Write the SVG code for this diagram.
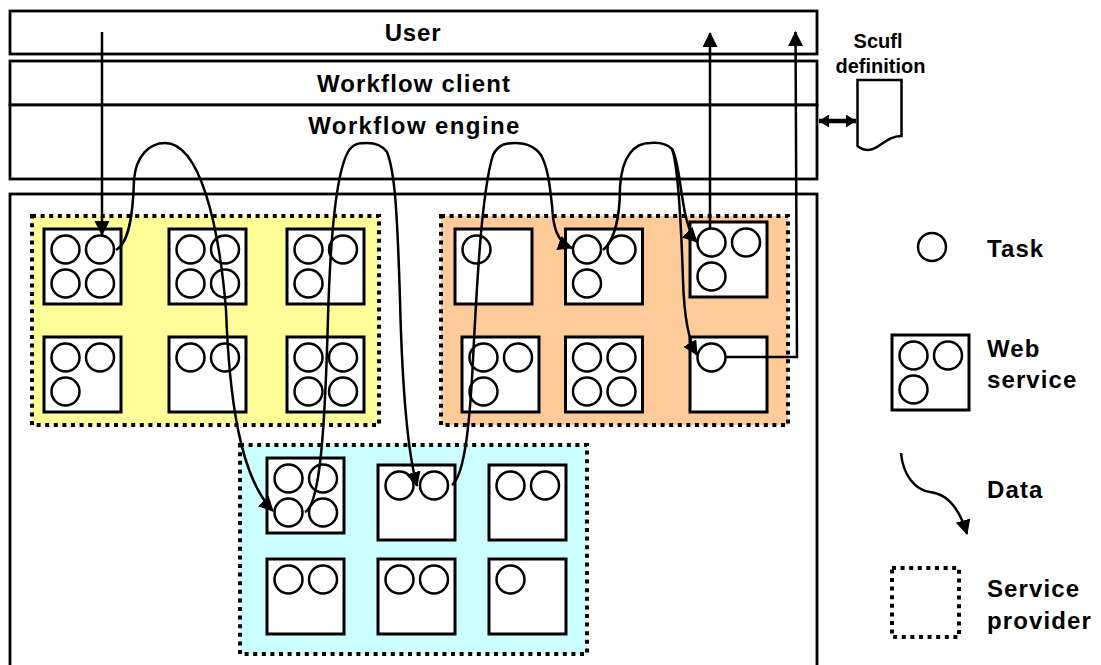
<svg xmlns="http://www.w3.org/2000/svg" width="1101" height="665" viewBox="0 0 1101 665">
<style>
.frame{fill:#fff;stroke:#000;stroke-width:2.8}
.prov{stroke:#000;stroke-width:4;stroke-dasharray:4 4.6}
.box{fill:#fff;stroke:#000;stroke-width:3}
.task{fill:none;stroke:#000;stroke-width:2.5}
.conn{fill:none;stroke:#000;stroke-width:2.5}
text{font-family:"Liberation Sans",Arial,sans-serif;font-weight:700;fill:#000}
.h{font-size:24px;text-anchor:middle}
.l{font-size:24px;letter-spacing:1.1px}
.s{font-size:20px;text-anchor:middle}
</style>
<defs>
<marker id="a" markerUnits="userSpaceOnUse" markerWidth="16" markerHeight="16" refX="14" refY="7.5" orient="auto"><path d="M0,0L15,7.5L0,15Z"/></marker>
<marker id="b" markerUnits="userSpaceOnUse" markerWidth="12" markerHeight="13" refX="10" refY="6.5" orient="auto-start-reverse"><path d="M0,0L10,6.5L0,13Z"/></marker>
<rect id="bx" class="box" width="77" height="75"/>
<circle id="t" class="task" r="14"/>
</defs>
<g id="layers">
<rect class="frame" x="10" y="11" width="807" height="43"/>
<rect class="frame" x="10" y="61" width="807" height="44"/>
<rect class="frame" x="10" y="105" width="807" height="74"/>
<rect class="frame" x="10" y="194" width="807" height="480"/>
<text class="h" x="413" y="41" style="letter-spacing:.8px">User</text>
<text class="h" x="414" y="92" style="letter-spacing:1.15px">Workflow client</text>
<text class="h" x="414.500" y="134" style="letter-spacing:1.4px">Workflow engine</text>
</g>
<g id="provider-yellow"><rect class="prov" fill="#ffff99" x="32" y="216" width="347" height="209"/></g>
<g id="provider-orange"><rect class="prov" fill="#ffcc99" x="441" y="216" width="347" height="209"/></g>
<g id="provider-cyan"><rect class="prov" fill="#ccffff" x="240" y="445" width="347" height="209"/></g>
<g id="y1" transform="translate(44,229)"><use href="#bx"/><use href="#t" x="21.5" y="20.5"/><use href="#t" x="56" y="20.5"/><use href="#t" x="21.5" y="54.5"/><use href="#t" x="56" y="54.5"/></g>
<g id="y2" transform="translate(169,229)"><use href="#bx"/><use href="#t" x="21.5" y="20.5"/><use href="#t" x="56" y="20.5"/><use href="#t" x="21.5" y="54.5"/><use href="#t" x="56" y="54.5"/></g>
<g id="y3" transform="translate(287,229)"><use href="#bx"/><use href="#t" x="21.5" y="20.5"/><use href="#t" x="56" y="20.5"/><use href="#t" x="21.5" y="54.5"/></g>
<g id="y4" transform="translate(44,337)"><use href="#bx"/><use href="#t" x="21.5" y="20.5"/><use href="#t" x="56" y="20.5"/><use href="#t" x="21.5" y="54.5"/></g>
<g id="y5" transform="translate(169,337)"><use href="#bx"/><use href="#t" x="21.5" y="20.5"/><use href="#t" x="56" y="20.5"/></g>
<g id="y6" transform="translate(287,337)"><use href="#bx"/><use href="#t" x="21.5" y="20.5"/><use href="#t" x="56" y="20.5"/><use href="#t" x="21.5" y="54.5"/><use href="#t" x="56" y="54.5"/></g>
<g id="o1" transform="translate(455,229)"><use href="#bx"/><use href="#t" x="21.5" y="20.5"/></g>
<g id="o2" transform="translate(565.500,229)"><use href="#bx"/><use href="#t" x="21.5" y="20.5"/><use href="#t" x="56" y="20.5"/><use href="#t" x="21.5" y="54.5"/></g>
<g id="o3" transform="translate(690,222)"><use href="#bx"/><use href="#t" x="21.5" y="20.5"/><use href="#t" x="56" y="20.5"/><use href="#t" x="21.5" y="54.5"/></g>
<g id="o4" transform="translate(462,337)"><use href="#bx"/><use href="#t" x="21.5" y="20.5"/><use href="#t" x="56" y="20.5"/><use href="#t" x="21.5" y="54.5"/></g>
<g id="o5" transform="translate(565.500,337)"><use href="#bx"/><use href="#t" x="21.5" y="20.5"/><use href="#t" x="56" y="20.5"/><use href="#t" x="21.5" y="54.5"/><use href="#t" x="56" y="54.5"/></g>
<g id="o6" transform="translate(690,337)"><use href="#bx"/><use href="#t" x="21.5" y="20.5"/></g>
<g id="c1" transform="translate(267,458)"><use href="#bx"/><use href="#t" x="21.5" y="20.5"/><use href="#t" x="56" y="20.5"/><use href="#t" x="21.5" y="54.5"/><use href="#t" x="56" y="54.5"/></g>
<g id="c2" transform="translate(378,465)"><use href="#bx"/><use href="#t" x="21.5" y="20.5"/><use href="#t" x="56" y="20.5"/></g>
<g id="c3" transform="translate(489,465)"><use href="#bx"/><use href="#t" x="21.5" y="20.5"/><use href="#t" x="56" y="20.5"/></g>
<g id="c4" transform="translate(267,559)"><use href="#bx"/><use href="#t" x="21.5" y="20.5"/><use href="#t" x="56" y="20.5"/></g>
<g id="c5" transform="translate(378,559)"><use href="#bx"/><use href="#t" x="21.5" y="20.5"/><use href="#t" x="56" y="20.5"/></g>
<g id="c6" transform="translate(489,559)"><use href="#bx"/><use href="#t" x="21.5" y="20.5"/></g>
<g id="connectors">
<path class="conn" marker-end="url(#a)" d="M102,32V235"/>
<path class="conn" marker-end="url(#a)" d="M116,250C129,243 133,215 134,180C136,155 150,143 165,143C200,143 219,225 226,310C229,390 238,475 273,511"/>
<path class="conn" marker-end="url(#a)" d="M305,512C320,505 325,430 328,317C330,250 335,175 348,152C353,143 360,143 367,143C375,143 382,145 387,152C394,170 397,200 400,300C402,380 407,450 417,486"/>
<path class="conn" marker-end="url(#a)" d="M452,485C465,475 470,420 473,360C477,280 482,190 493,155C499,143 508,143 515,143C528,143 536,148 541,155C549,170 550,190 552,205C553,225 556,242 572,248"/>
<path class="conn" marker-end="url(#a)" d="M603,250C615,240 620,215 620,187C622,155 635,143 650,143C660,142 667,144 672,149C682,165 680,225 697,242"/>
<path class="conn" marker-end="url(#a)" d="M672,149C678,165 681,220 683,280C684,315 688,340 697,355"/>
<path class="conn" marker-end="url(#a)" d="M710,229V33"/>
<path class="conn" marker-end="url(#a)" d="M725,357H797L795.500,32"/>
<path fill="none" stroke="#000" stroke-width="4.500" marker-start="url(#b)" marker-end="url(#b)" d="M819,121H856"/>
</g>
<g id="scufl">
<path fill="#fff" stroke="#000" stroke-width="2.5" d="M857.500,80H901.500V136C885,136 880,150 868,150C863,150 860,148 857.500,146Z"/>
<text class="s" x="878" y="48">Scufl</text>
<text class="s" x="880.500" y="72.500">definition</text>
</g>
<g id="legend-task"><circle class="task" cx="932" cy="247" r="14"/><text class="l" x="987" y="257">Task</text></g>
<g id="legend-service">
<g transform="translate(892,335)"><use href="#bx"/><use href="#t" x="21.5" y="20.5"/><use href="#t" x="56" y="20.5"/><use href="#t" x="21.5" y="54.5"/></g>
<text class="l" x="987" y="357">Web</text><text class="l" x="987" y="388">service</text>
</g>
<g id="legend-data"><path class="conn" marker-end="url(#a)" d="M901,453C903,475 915,490 930,492C948,494 960,510 967,534"/><text class="l" x="987" y="498">Data</text></g>
<g id="legend-provider"><rect fill="#fff" stroke="#000" stroke-width="4" stroke-dasharray="4 4.6" x="892" y="568" width="67" height="69"/><text class="l" x="987" y="597">Service</text><text class="l" x="987" y="629">provider</text></g>
</svg>
